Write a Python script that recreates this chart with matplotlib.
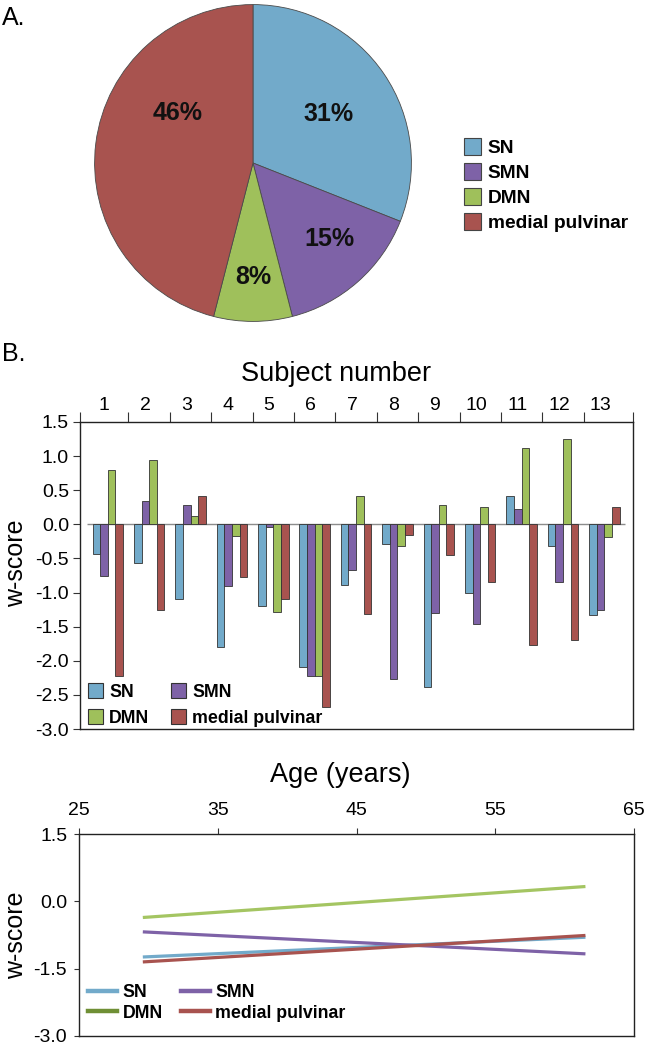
import numpy as np
import matplotlib
matplotlib.use("Agg")
import matplotlib.pyplot as plt
from matplotlib.patches import Patch
from matplotlib.lines import Line2D

plt.rcParams['font.family'] = ['Liberation Sans', 'DejaVu Sans']
plt.rcParams['axes.unicode_minus'] = False

# ---------------- data ----------------
networks = ['SN', 'SMN', 'DMN', 'medial pulvinar']
pie_pct = [31, 15, 8, 46]

subjects = [str(i) for i in range(1, 14)]
sn_w  = [-0.44, -0.56, -1.09, -1.80, -1.20, -2.09, -0.89, -0.29, -2.39, -1.01, 0.42, -0.32, -1.33]
smn_w = [-0.75, 0.34, 0.28, -0.91, -0.04, -2.22, -0.67, -2.26, -1.30, -1.46, 0.22, -0.85, -1.25]
dmn_w = [0.79, 0.95, 0.12, -0.17, -1.29, -2.22, 0.41, -0.32, 0.28, 0.25, 1.12, 1.25, -0.18]
mp_w  = [-2.22, -1.26, 0.42, -0.77, -1.10, -2.68, -1.31, -0.15, -0.45, -0.84, -1.77, -1.70, 0.25]

age_ends = [29.6, 61.5]
sn_fit  = [-1.24, -0.80]
smn_fit = [-0.68, -1.17]
dmn_fit = [-0.36, 0.33]
mp_fit  = [-1.35, -0.76]
age_ticks = [25, 35, 45, 55, 65]

# ---------------- style ----------------
c_sn, c_smn, c_dmn, c_mp = '#72AACA', '#7E62A7', '#9FC05B', '#A8534F'
W, H = 646, 1048
fig = plt.figure(figsize=(W / 100, H / 100), dpi=100)

def fx(px):
    return px / W

def fy(px):
    return 1 - px / H

TICK_FS = 14

# ---------------- A: pie ----------------
axp = fig.add_axes([fx(93), fy(323), 320 / W, 320 / H])
wedges, texts, autotexts = axp.pie(
    pie_pct, colors=[c_sn, c_smn, c_dmn, c_mp], startangle=90, counterclock=False,
    radius=1, autopct=lambda p: f'{p:.0f}%', pctdistance=0.6,
    wedgeprops=dict(edgecolor='#4a4a4a', linewidth=0.6),
    textprops=dict(fontsize=18, fontweight='bold', color='#111111'))
label_pos = [(33, 0.57), (-45, 0.68), (-90, 0.72), (146.7, 0.57)]
for t, (ang, d) in zip(autotexts, label_pos):
    a = np.deg2rad(ang)
    t.set_position((d * np.cos(a), d * np.sin(a)))
axp.set_xlim(-1.01, 1.01)
axp.set_ylim(-1.01, 1.01)
axp.axis('off')

pie_handles = [Patch(facecolor=c, edgecolor='#444444', linewidth=0.8)
               for c in [c_sn, c_smn, c_dmn, c_mp]]
fig.legend(pie_handles, networks, loc='upper left', bbox_to_anchor=(fx(464), fy(138)),
           frameon=False, prop=dict(size=13.8, weight='bold'),
           handlelength=0.9, handleheight=1.0, handletextpad=0.35,
           labelspacing=0.3, borderpad=0, borderaxespad=0)

fig.text(fx(2), fy(25), 'A.', fontsize=18, va='baseline', ha='left')
fig.text(fx(2), fy(361), 'B.', fontsize=18, va='baseline', ha='left')

# ---------------- B: bars ----------------
axb = fig.add_axes([fx(80), fy(729), (633 - 80) / W, (729 - 422) / H])
x = np.arange(len(subjects))
bw = 0.184
series = [(sn_w, c_sn), (smn_w, c_smn), (dmn_w, c_dmn), (mp_w, c_mp)]
for i, (vals, col) in enumerate(series):
    axb.bar(x + (i - 1.5) * bw, vals, width=bw, color=col, edgecolor='#333333',
            linewidth=0.6, zorder=3)
axb.hlines(0, -0.5, len(subjects) - 0.5, color='#8c8c8c', linewidth=1.0, zorder=2)
xl = (-0.67, len(subjects) - 1 + 0.69)
axb.set_xlim(*xl)
axb.set_ylim(-3.0, 1.5)
yt = np.arange(-3.0, 1.51, 0.5)
axb.set_yticks(yt)
axb.set_yticklabels([f'{v:.1f}' for v in yt], fontsize=TICK_FS)
bounds = [xl[0]] + list(x[:-1] + 0.5) + [xl[1]]
axb.set_xticks(bounds)
axb.set_xticklabels([''] * len(bounds))
axb.set_xticks(x - 0.1, minor=True)
axb.set_xticklabels(subjects, minor=True, fontsize=TICK_FS)
axb.tick_params(axis='x', which='both', top=True, bottom=False, labeltop=True,
                labelbottom=False)
axb.tick_params(axis='x', which='major', length=7, width=0.8, color='#333333')
axb.tick_params(axis='x', which='minor', length=0, pad=6)
axb.tick_params(axis='y', length=5, width=0.8, pad=3, color='#333333')
for s in axb.spines.values():
    s.set_linewidth(1.0)
    s.set_color('#222222')
axb.set_ylabel('w-score', fontsize=18)
axb.yaxis.set_label_coords(-0.094, 0.54)
fig.text(fx(336), fy(381), 'Subject number', fontsize=19.5, ha='center', va='baseline')

bar_handles = [Patch(facecolor=c, edgecolor='#333333', linewidth=0.8)
               for c in [c_sn, c_smn, c_dmn, c_mp]]
axb.legend([bar_handles[0], bar_handles[2], bar_handles[1], bar_handles[3]],
           ['SN', 'DMN', 'SMN', 'medial pulvinar'], ncol=2,
           loc='upper left', bbox_to_anchor=(fx(88), fy(683)),
           bbox_transform=fig.transFigure, frameon=False,
           prop=dict(size=12.8, weight='bold'), handlelength=0.85, handleheight=0.95,
           handletextpad=0.35, labelspacing=0.45, columnspacing=1.2,
           borderpad=0, borderaxespad=0)

# ---------------- age regression lines ----------------
axl = fig.add_axes([fx(79), fy(1036), (634 - 79) / W, (1036 - 834) / H])
line_cols = [c_sn, c_smn, '#A4C562', c_mp]
fits = [sn_fit, smn_fit, dmn_fit, mp_fit]
for vals, col in zip(fits, line_cols):
    axl.plot(age_ends, vals, color=col, linewidth=2.3, solid_capstyle='butt')
axl.set_xlim(25, 65)
axl.set_ylim(-3.0, 1.5)
axl.set_xticks(age_ticks)
axl.set_xticklabels([str(a) for a in age_ticks], fontsize=TICK_FS)
ylt = [-3.0, -1.5, 0.0, 1.5]
axl.set_yticks(ylt)
axl.set_yticklabels([f'{v:.1f}' for v in ylt], fontsize=TICK_FS)
axl.tick_params(axis='x', top=True, bottom=False, labeltop=True, labelbottom=False,
                length=4.5, width=0.8, pad=6, color='#333333')
axl.tick_params(axis='y', length=3.5, width=0.8, pad=5, color='#333333')
for s in axl.spines.values():
    s.set_linewidth(1.0)
    s.set_color('#222222')
axl.set_ylabel('w-score', fontsize=18)
axl.yaxis.set_label_coords(-0.092, 0.5)
fig.text(fx(340), fy(782), 'Age (years)', fontsize=19.5, ha='center', va='baseline')

leg_lines = [Line2D([], [], color=c_sn, linewidth=3.2),
             Line2D([], [], color='#6F8F35', linewidth=3.2),
             Line2D([], [], color=c_smn, linewidth=3.2),
             Line2D([], [], color=c_mp, linewidth=3.2)]
axl.legend(leg_lines, ['SN', 'DMN', 'SMN', 'medial pulvinar'], ncol=2,
           loc='upper left', bbox_to_anchor=(fx(88), fy(984)),
           bbox_transform=fig.transFigure, frameon=False,
           prop=dict(size=12.8, weight='bold'), handlelength=1.65,
           handletextpad=0.3, labelspacing=0.2, columnspacing=1.0,
           borderpad=0, borderaxespad=0)

fig.savefig('out.png', dpi=100)
